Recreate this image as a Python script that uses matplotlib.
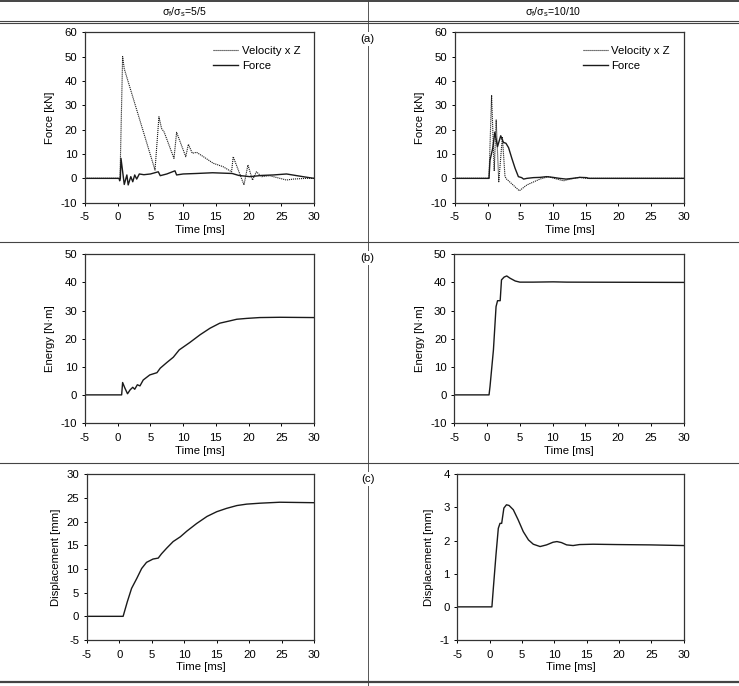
#! /usr/bin/env python3

########################################################################
#   Impact test results: force, energy and displacement vs time
#   for two stiffness ratios (5/5 and 10/10)
########################################################################

import matplotlib
matplotlib.use("Agg")
import matplotlib.pyplot as plt
from matplotlib.lines import Line2D

plt.rcParams['font.family'] = ['Liberation Sans', 'DejaVu Sans']
plt.rcParams['mathtext.fontset'] = 'custom'
plt.rcParams['mathtext.rm'] = 'Liberation Sans'
plt.rcParams['axes.unicode_minus'] = False

# ---- (a) sigma 5/5 ----
t_vel_5 = [-5, 0.35, 0.75, 1.0, 5.7, 6.3, 6.7, 7.1, 8.6, 9.0, 10.4, 10.8, 11.4, 12.05,
           13.1, 14.6, 16.1, 17.4, 17.65, 19.3, 19.9, 20.6, 21.2, 22.0, 23.2, 24.8,
           25.8, 26.8, 28.8, 30]
vel_5 = [0, 0, 50, 45, 3.4, 25.3, 20.5, 19, 8.2, 18.9, 8.9, 14, 10.3, 10.7,
         8.9, 6.2, 4.8, 2.7, 8.9, -2.7, 5.5, -0.7, 2.7, 0.7, 1.1, 0,
         -0.7, -0.3, 0, 0]
t_force_5 = [-5, 0.2, 0.3, 0.4, 0.5, 1.0, 1.4, 1.6, 2.0, 2.3, 2.6, 2.9, 3.3, 4.0, 5.0,
             6.2, 6.5, 7.5, 8.75, 9.0, 10.0, 12.0, 14.5, 17.5, 18.5, 20.2, 22.0,
             23.8, 25.8, 28.3, 30]
force_5 = [0, 0, -1, 0, 8.2, -2.5, 1.4, -2.7, 0.7, -1.4, 1.4, -0.3, 1.8, 1.5, 1.8,
           2.7, 1.1, 1.8, 3.1, 1.4, 1.8, 2.0, 2.3, 2.0, 1.2, 0.7, 1.2,
           1.4, 1.8, 0.7, 0]

# ---- (a) sigma 10/10 ----
t_vel_10 = [-5, 0.2, 0.6, 1.0, 1.3, 1.7, 2.25, 2.65, 2.9, 4.85, 6.0, 8.0, 9.3, 10.6,
            11.6, 12.6, 14.1, 15.1, 30]
vel_10 = [0, 0, 34.2, 3, 24, -1.4, 17.1, 0.7, -0.3, -5.1, -2.7, -0.3, 0.7, -0.3,
          -1, -0.3, 0.4, 0, 0]
t_force_10 = [-5, 0.2, 0.36, 0.77, 1.1, 1.5, 2.0, 2.4, 2.8, 3.2, 3.7, 4.2, 4.7, 5.2,
              5.5, 6, 7, 8, 9, 10, 11, 12, 13, 14.1, 15.1, 15.5, 30]
force_10 = [0, 0, 7.5, 12.3, 19, 13, 17.5, 14.8, 14.4, 12.6, 8.2, 4.1, 0.7, 0.3,
            -0.3, 0, 0.3, 0.4, 0.7, 0.4, 0, -0.3, 0, 0.4, 0.3, 0, 0]

# ---- (b) energy ----
t_en_5 = [-5, 0.6, 0.75, 1.1, 1.5, 1.9, 2.3, 2.6, 3.0, 3.4, 3.9, 4.9, 6.0, 6.5, 7.5,
          8.5, 9.4, 11, 12.6, 14.1, 15.6, 17.1, 18.2, 19.7, 21.7, 24.8, 30]
en_5 = [0, 0, 4.4, 2.4, 0.4, 1.8, 2.7, 2.0, 3.6, 3.2, 5.3, 7.1, 7.9, 9.5, 11.5,
        13.4, 16, 18.6, 21.4, 23.7, 25.5, 26.3, 26.9, 27.2, 27.5, 27.6, 27.5]
t_en_10 = [-5, 0.3, 0.45, 0.97, 1.37, 1.6, 2.0, 2.2, 2.6, 3.0, 3.5, 4.3, 5.0, 7,
           10.1, 12.2, 30]
en_10 = [0, 0, 3, 16, 31.4, 33.5, 33.5, 40.9, 41.9, 42.3, 41.5, 40.5, 40.1, 40.1,
         40.2, 40.1, 40]

# ---- (c) displacement ----
t_dis_5 = [-5, 0.6, 1.25, 1.9, 2.7, 3.45, 4.2, 5.2, 6.0, 6.5, 7.3, 8.3, 9.4, 10.4,
           11.9, 13.5, 15, 16.5, 18.1, 19.6, 21.7, 24.7, 30]
dis_5 = [0, 0, 3.1, 5.9, 8, 10.1, 11.4, 12.1, 12.3, 13.2, 14.4, 15.8, 16.8, 18.0,
         19.6, 21.1, 22.1, 22.8, 23.4, 23.7, 23.9, 24.1, 24.0]
t_dis_10 = [-5, 0.35, 0.57, 0.98, 1.34, 1.6, 1.86, 2.2, 2.6, 3.0, 3.66, 4.4, 5.2, 6.0,
            6.75, 7.8, 8.8, 9.8, 10.4, 11.1, 11.9, 12.9, 13.9, 16, 19.6, 24.8, 30]
dis_10 = [0, 0, 0.56, 1.57, 2.37, 2.52, 2.52, 2.98, 3.08, 3.06, 2.93, 2.63, 2.27, 2.02,
          1.89, 1.82, 1.87, 1.95, 1.97, 1.94, 1.87, 1.85, 1.88, 1.89, 1.88, 1.87, 1.85]

LINE_C = '#1a1a1a'
FS = 8.2
W, H = 739, 686


def setup_axes(ax, ylim, yticks, ylabel):
    ax.set_xlim(-5, 30)
    ax.set_xticks(range(-5, 31, 5))
    ax.set_ylim(*ylim)
    ax.set_yticks(yticks)
    ax.set_xlabel('Time [ms]', fontsize=FS, labelpad=2)
    ax.set_ylabel(ylabel, fontsize=FS, labelpad=4)
    ax.tick_params(direction='out', length=2.5, width=0.7, labelsize=FS, pad=3)
    ax.tick_params(axis='x', pad=4.5)
    for s in ax.spines.values():
        s.set_linewidth(0.9)
        s.set_color('#333333')


def box(x0, y0, x1, y1):
    # pixel box (top-left origin) -> figure fraction rect
    return [x0 / W, 1 - y1 / H, (x1 - x0) / W, (y1 - y0) / H]


def hline(fig, y, lw=0.8, x0=0, x1=W):
    fig.add_artist(Line2D([x0 / W, x1 / W], [1 - y / H, 1 - y / H],
                          transform=fig.transFigure, color='#444444', lw=lw))


def main():
    fig = plt.figure(figsize=(W / 100, H / 100), dpi=100)

    # table rules
    hline(fig, 1.0, lw=1.4)
    hline(fig, 20.7, lw=0.8)
    hline(fig, 22.9, lw=0.8)
    hline(fig, 241.7, lw=0.8)
    hline(fig, 462.5, lw=0.8)
    hline(fig, 682.0, lw=1.6)
    fig.add_artist(Line2D([367.5 / W, 367.5 / W], [0, 1],
                          transform=fig.transFigure, color='#555555', lw=0.7, zorder=0))

    fig.text(184 / W, 1 - 12 / H, r'σ$_\mathregular{f}$/σ$_\mathregular{s}$=5/5',
             ha='center', va='center', fontsize=7.6)
    fig.text(553 / W, 1 - 12 / H, r'σ$_\mathregular{f}$/σ$_\mathregular{s}$=10/10',
             ha='center', va='center', fontsize=7.6)
    for lab, y in [('(a)', 39), ('(b)', 258), ('(c)', 479)]:
        fig.text(367.5 / W, 1 - y / H, lab, ha='center', va='center', fontsize=FS,
                 bbox=dict(facecolor='white', edgecolor='none', pad=1.5))

    # (a) force
    ax = fig.add_axes(box(85, 32.3, 314, 202.7))
    ax.plot(t_vel_5, vel_5, color=LINE_C, lw=0.8, ls=(0, (1, 0.8)), label='Velocity x Z')
    ax.plot(t_force_5, force_5, color=LINE_C, lw=1.0, label='Force')
    setup_axes(ax, (-10, 60), range(-10, 61, 10), 'Force [kN]')
    ax.legend(loc='upper right', frameon=False, fontsize=FS, handlelength=2.2,
              handletextpad=0.3, labelspacing=0.45, borderaxespad=0.8)

    ax = fig.add_axes(box(455, 32.3, 683.7, 202.7))
    ax.plot(t_vel_10, vel_10, color=LINE_C, lw=0.8, ls=(0, (1, 0.8)), label='Velocity x Z')
    ax.plot(t_force_10, force_10, color=LINE_C, lw=1.0, label='Force')
    setup_axes(ax, (-10, 60), range(-10, 61, 10), 'Force [kN]')
    ax.legend(loc='upper right', frameon=False, fontsize=FS, handlelength=2.2,
              handletextpad=0.3, labelspacing=0.45, borderaxespad=0.8)

    # (b) energy
    ax = fig.add_axes(box(85, 254.3, 314, 423))
    ax.plot(t_en_5, en_5, color=LINE_C, lw=1.0)
    setup_axes(ax, (-10, 50), range(-10, 51, 10), 'Energy [N·m]')

    ax = fig.add_axes(box(454.3, 254.3, 683.7, 423))
    ax.plot(t_en_10, en_10, color=LINE_C, lw=1.0)
    setup_axes(ax, (-10, 50), range(-10, 51, 10), 'Energy [N·m]')

    # (c) displacement
    ax = fig.add_axes(box(86.7, 474.3, 314.3, 640))
    ax.plot(t_dis_5, dis_5, color=LINE_C, lw=1.0)
    setup_axes(ax, (-5, 30), range(-5, 31, 5), 'Displacement [mm]')

    ax = fig.add_axes(box(457.3, 474.3, 683.7, 640))
    ax.plot(t_dis_10, dis_10, color=LINE_C, lw=1.0)
    setup_axes(ax, (-1, 4), range(-1, 5, 1), 'Displacement [mm]')

    plt.savefig('out.png', dpi=100)
    plt.close()


if __name__ == '__main__':
    main()
